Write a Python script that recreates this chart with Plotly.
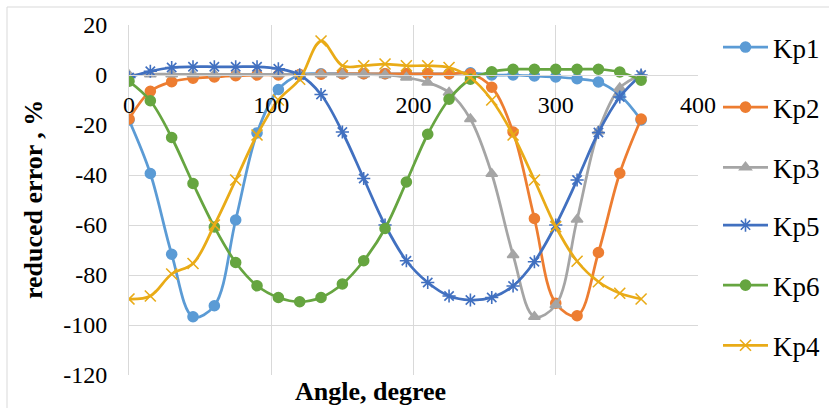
import plotly.graph_objects as go

angles = list(range(0, 361, 15))

kp1 = [-18, -39.4, -71.7, -96.7, -92.3, -58, -23.2, -5.8, 0, 0.5, 0.5, 0.5, 0.5,
       0.5, 0.5, 0.5, 0.9, 0, 0, -0.4, -0.8, -1.5, -2.8, -8, -18]
kp2 = [-17.6, -6.5, -2.7, -1.3, -0.8, -0.3, 0, 0, 0.2, 0.3, 0.5, 0.5, 0.5,
       0.5, 0.5, 0.5, 0.5, -4.9, -22.8, -57.4, -91.3, -96.3, -71, -39.3, -17.6]
kp3 = [0, 0.3, 0.3, 0.3, 0.3, 0.3, 0.3, 0.3, 0.3, 0.3, 0.3, 0.3, 0,
       -1, -3, -7, -17.6, -39.5, -72, -96.7, -92, -57.8, -22.5, -5.2, 0]
kp5 = [-1, 1.5, 3, 3.3, 3.3, 3.3, 3.3, 2.5, 0, -7.8, -22.8, -41.4, -60,
       -74.3, -83, -88.4, -90, -89, -84.4, -74.7, -60, -42, -23, -8.8, 0]
kp6 = [-2.5, -10.3, -25, -43.4, -60.8, -75, -84.3, -89, -90.7, -89, -83.6, -74.3, -61.4,
       -42.8, -23.7, -9.7, -1.7, 1.3, 2.3, 2.3, 2.3, 2.3, 2.3, 1.2, -2.1]
kp4 = [-89.6, -88.4, -79.6, -75.4, -60, -42, -24, -10, -1.7, 13.6, 3.7, 3.7, 4.4,
       3.7, 3.7, 3, -1, -10, -24, -42, -60.7, -74.5, -82.7, -87.3, -89.6]

x_ticks = [0, 100, 200, 300, 400]
x_ticklabels = ["0", "100", "200", "300", "400"]
y_ticks = [20, 0, -20, -40, -60, -80, -100, -120]
y_ticklabels = ["20", "0", "-20", "-40", "-60", "-80", "-100", "-120"]

series = [
    ("Kp1", kp1, "#5B9BD5", "circle", 10, "legend"),
    ("Kp2", kp2, "#ED7D31", "circle", 10, "legend"),
    ("Kp3", kp3, "#A5A5A5", "triangle-up", 10, "legend"),
    ("Kp5", kp5, "#4170C0", "asterisk-open", 11, "legend2"),
    ("Kp6", kp6, "#66A540", "circle", 10, "legend2"),
    ("Kp4", kp4, "#E9AB17", "x-thin-open", 11, "legend2"),
]

FONT = "Liberation Serif, Times New Roman, serif"

fig = go.Figure()
for name, vals, color, sym, size, leg in series:
    fig.add_trace(go.Scatter(
        x=angles, y=vals, name=name, mode="lines+markers",
        line=dict(color=color, width=2.75, shape="spline", smoothing=1),
        marker=dict(symbol=sym, size=size, color=color,
                    line=dict(color=color, width=1.6)),
        legendgroup=name, legend=leg,
    ))

W, H = 829, 408
L, R, T, B = 129, 131, 25, 33
pw, ph = W - L - R, H - T - B

def px(xp):
    return (xp - L) / pw

def py(yp):
    return (H - B - yp) / ph

leg_common = dict(xanchor="left", yanchor="top",
                  font=dict(family=FONT, size=27, color="black"),
                  tracegroupgap=22, itemwidth=45, bgcolor="rgba(0,0,0,0)")

fig.update_layout(
    width=W, height=H,
    margin=dict(l=L, r=R, t=T, b=B, autoexpand=False),
    paper_bgcolor="white", plot_bgcolor="white",
    font=dict(family=FONT, size=24, color="black"),
    showlegend=True,
    legend=dict(x=px(718), y=py(23), **leg_common),
    legend2=dict(x=px(718), y=py(201), **leg_common),
    xaxis=dict(range=[0, 400], tickmode="array", tickvals=x_ticks,
               ticktext=x_ticklabels, showgrid=True,
               gridcolor="#D9D9D9", gridwidth=1, zeroline=False,
               showline=True, linecolor="#D9D9D9", linewidth=1,
               anchor="free", position=120 / 140, ticks="",
               ticklabelstandoff=8, automargin=False,
               tickfont=dict(family=FONT, size=24, color="black")),
    yaxis=dict(range=[-120, 20], tickmode="array", tickvals=y_ticks,
               ticktext=y_ticklabels, showgrid=True,
               gridcolor="#D9D9D9", gridwidth=1, zeroline=False,
               showline=True, linecolor="#D9D9D9", linewidth=1,
               ticks="", ticklabelstandoff=16, automargin=False,
               tickfont=dict(family=FONT, size=24, color="black")),
    annotations=[
        dict(text="<b>Angle, degree</b>", x=px(370), y=py(392),
             xref="paper", yref="paper", xanchor="center", yanchor="middle",
             showarrow=False, font=dict(family=FONT, size=26, color="black")),
        dict(text="<b>reduced error , %</b>", x=px(33), y=py(200),
             xref="paper", yref="paper", xanchor="center", yanchor="middle",
             textangle=-90, showarrow=False,
             font=dict(family=FONT, size=26, color="black")),
    ],
    shapes=[
        dict(type="rect", xref="paper", yref="paper",
             x0=px(7), x1=px(840), y0=py(420), y1=py(7),
             line=dict(color="#D9D9D9", width=1), layer="below"),
    ],
)

fig.write_html("out.html", config={"displayModeBar": False},
               post_script="document.body.style.margin='0';document.body.style.overflow='hidden';")
